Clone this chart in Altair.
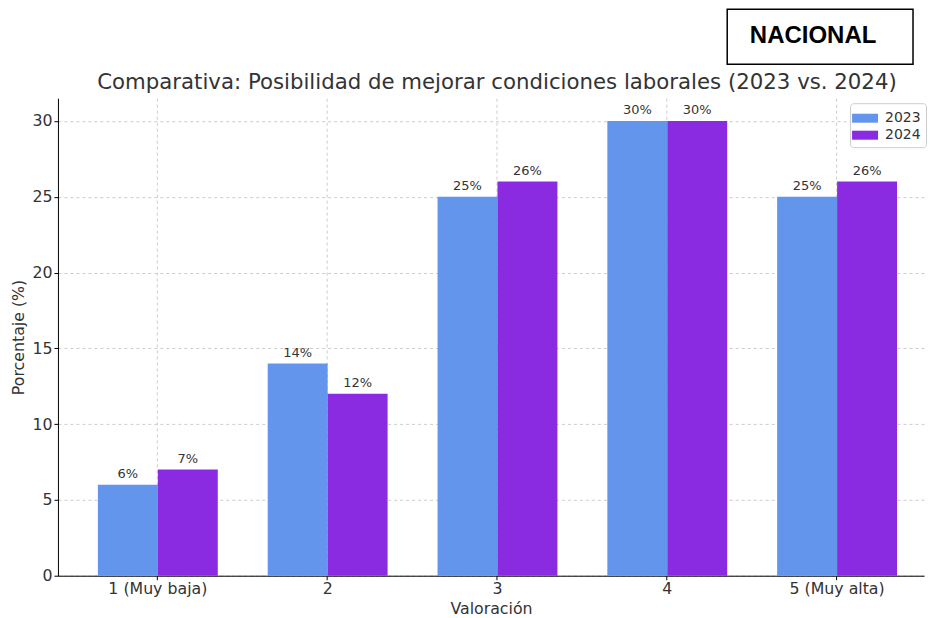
import altair as alt
import pandas as pd

categories = ["1 (Muy baja)", "2", "3", "4", "5 (Muy alta)"]
years = ["2023", "2024"]
values_2023 = [6, 14, 25, 30, 25]
values_2024 = [7, 12, 26, 30, 26]
colors = ["#6495ED", "#8A2BE2"]
badge = ["NACIONAL"]
title_text = "Comparativa: Posibilidad de mejorar condiciones laborales (2023 vs. 2024)"

rows = []
for yr, vals in zip(years, [values_2023, values_2024]):
    for c, v in zip(categories, vals):
        rows.append({"cat": c, "year": yr, "value": v, "label": f"{v}%"})
df = pd.DataFrame(rows)

FONT = "DejaVu Sans"
W = 867
H = 478
FS = 15.8

base = alt.Chart(df).encode(
    x=alt.X(
        "cat:N",
        sort=categories,
        scale=alt.Scale(paddingInner=0.294, paddingOuter=0.197, align=0.597),
        axis=alt.Axis(
            title="Valoración", labelAngle=0, grid=True, gridDash=[3, 3],
            gridColor="#cccccc", domainColor="#000000", tickColor="#000000",
            tickSize=4, labelFontSize=FS, titleFontSize=FS, labelColor="#333333",
            titleColor="#333333", labelFont=FONT, titleFont=FONT,
            titleFontWeight="normal", labelPadding=2, titlePadding=5,
        ),
    ),
    xOffset=alt.XOffset("year:N", sort=years, scale=alt.Scale(paddingInner=0, paddingOuter=0)),
)

bars = base.mark_bar().encode(
    y=alt.Y(
        "value:Q",
        scale=alt.Scale(domain=[0, 31.5], nice=False),
        axis=alt.Axis(
            title="Porcentaje (%)", values=[0, 5, 10, 15, 20, 25, 30], grid=True,
            gridDash=[3, 3], gridColor="#cccccc", domainColor="#000000",
            tickColor="#000000", tickSize=4, labelFontSize=FS, titleFontSize=FS,
            labelColor="#333333", titleColor="#333333", labelFont=FONT,
            titleFont=FONT, titleFontWeight="normal", labelPadding=2, titlePadding=5,
        ),
    ),
    color=alt.Color(
        "year:N",
        sort=years,
        scale=alt.Scale(domain=years, range=colors),
        legend=alt.Legend(
            title=None, orient="none", legendX=793, legendY=94,
            fillColor="#ffffff", strokeColor="#cccccc", cornerRadius=3, padding=5,
            symbolType="M-1.3,-0.45L1.3,-0.45L1.3,0.45L-1.3,0.45Z", symbolSize=400,
            symbolStrokeWidth=0, labelFontSize=14, labelFont=FONT,
            labelColor="#333333", rowPadding=0, labelOffset=10,
        ),
    ),
)

labels = base.mark_text(
    baseline="bottom", dy=-4, fontSize=13, font=FONT, color="#333333"
).encode(y=alt.Y("value:Q"), text="label:N")

main = alt.layer(bars, labels).properties(
    width=W,
    height=H,
    title=alt.Title(
        title_text, fontSize=21.3, font=FONT, fontWeight="normal",
        color="#333333", anchor="middle", frame="group", dx=6, offset=5,
    ),
)

badge_df = pd.DataFrame({"t": badge})
box = alt.Chart(badge_df).mark_rect(
    fill="#ffffff", stroke="#000000", strokeWidth=1.5
).encode(
    x=alt.value(670), x2=alt.value(856), y=alt.value(0), y2=alt.value(55)
)
box_text = alt.Chart(badge_df).mark_text(
    font="Liberation Sans", fontSize=24, fontWeight="bold", color="#000000"
).encode(x=alt.value(756), y=alt.value(27), text="t:N")
top = alt.layer(box, box_text).properties(width=W, height=57)

chart = alt.vconcat(top, main, spacing=5).properties(
    padding={"left": 2, "top": 0, "right": 0, "bottom": 0}
).configure_view(stroke=None)

chart.save("out.html", embed_options={"renderer": "svg", "actions": False})
